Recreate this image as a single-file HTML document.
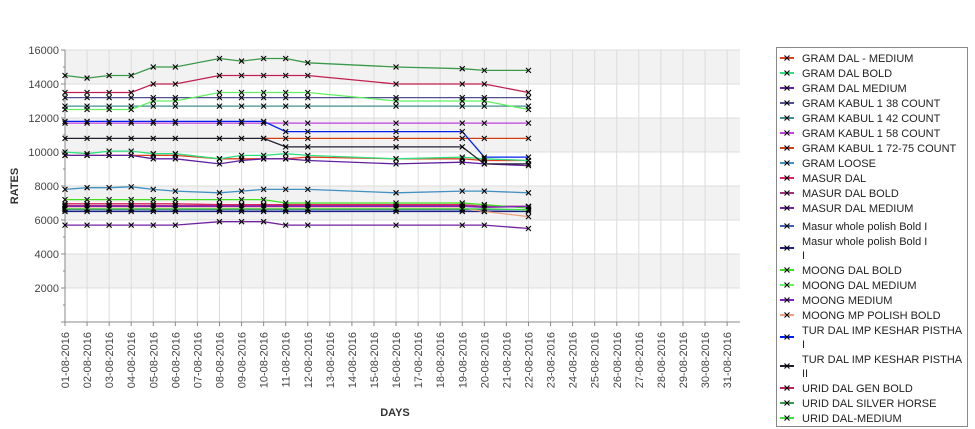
<!DOCTYPE html>
<html><head><meta charset="utf-8"><style>
body{margin:0;background:#fff;font-family:"Liberation Sans","DejaVu Sans",sans-serif}
svg{display:block}
</style></head><body>
<svg id="chart" width="975" height="429" xmlns="http://www.w3.org/2000/svg"></svg>
<script>
const categories=["01-08-2016","02-08-2016","03-08-2016","04-08-2016","05-08-2016","06-08-2016","07-08-2016","08-08-2016","09-08-2016","10-08-2016","11-08-2016","12-08-2016","13-08-2016","14-08-2016","15-08-2016","16-08-2016","17-08-2016","18-08-2016","19-08-2016","20-08-2016","21-08-2016","22-08-2016","23-08-2016","24-08-2016","25-08-2016","26-08-2016","27-08-2016","28-08-2016","29-08-2016","30-08-2016","31-08-2016"];
const yTicks=[2000,4000,6000,8000,10000,12000,14000,16000];
const days=[1,2,3,4,5,6,8,9,10,11,12,16,19,20,22];
const seriesNames=["GRAM DAL - MEDIUM","GRAM DAL BOLD","GRAM DAL MEDIUM","GRAM KABUL 1 38 COUNT","GRAM KABUL 1 42 COUNT","GRAM KABUL 1 58 COUNT","GRAM KABUL 1 72-75 COUNT","GRAM LOOSE","MASUR DAL","MASUR DAL BOLD","MASUR DAL MEDIUM","Masur whole polish Bold I","Masur whole polish Bold I|I","MOONG DAL BOLD","MOONG DAL MEDIUM","MOONG MEDIUM","MOONG MP POLISH BOLD","TUR DAL IMP KESHAR PISTHA| I","TUR DAL IMP KESHAR PISTHA| II","URID DAL GEN BOLD","URID DAL SILVER HORSE","URID DAL-MEDIUM"];
const seriesColors=["#e04020","#30e080","#6020a0","#505090","#409090","#c040e0","#d04010","#4090c0","#e02060","#a03080","#7020a0","#4060b0","#202080","#40e020","#60f060","#8020c0","#f0a080","#0020f0","#202030","#c02050","#3a9a4a","#40e040"];
const v0=[9800,9800,9800,9800,9800,9800,9600,9600,9600,9600,9700,9600,9600,9500,9500];
const v1=[10000,9900,10050,10050,9900,9900,9600,9800,9800,9900,9800,9600,9700,9600,9500];
const v2=[9800,9800,9800,9800,9600,9600,9300,9500,9600,9600,9500,9300,9400,9300,9200];
const v3=[13200,13200,13200,13200,13200,13200,13200,13200,13200,13200,13200,13200,13200,13200,13200];
const v4=[12700,12700,12700,12700,12700,12700,12700,12700,12700,12700,12700,12700,12700,12700,12700];
const v5=[11700,11700,11700,11700,11700,11700,11700,11700,11700,11700,11700,11700,11700,11700,11700];
const v6=[null,null,null,null,null,null,null,null,10800,10800,10800,10800,10800,10800,10800];
const v7=[7800,7900,7900,7950,7800,7700,7600,7700,7800,7800,7800,7600,7700,7700,7600];
const v8=[6950,6950,6950,6950,6950,6950,6900,6900,6900,6900,6900,6900,6900,6800,6800];
const v9=[6850,6850,6850,6850,6850,6850,6850,6850,6850,6850,6850,6850,6850,6800,6800];
const v10=[5700,5700,5700,5700,5700,5700,5900,5900,5900,5700,5700,5700,5700,5700,5500];
const v11=[6600,6600,6600,6600,6600,6600,6600,6600,6600,6600,6600,6600,6600,6600,6600];
const v12=[6500,6500,6500,6500,6500,6500,6500,6500,6500,6500,6500,6500,6500,6500,6500];
const v13=[7200,7200,7200,7200,7200,7200,7200,7200,7200,7000,7000,7000,7000,6900,6700];
const v14=[12500,12500,12500,12500,13000,13000,13500,13500,13500,13500,13500,13000,13000,13000,12500];
const v15=[6800,6800,6800,6800,6800,6800,6800,6800,6800,6800,6800,6800,6800,6750,6800];
const v16=[6700,6700,6700,6700,6700,6700,6700,6700,6700,6700,6700,6700,6700,6500,6200];
const v17=[11800,11800,11800,11800,11800,11800,11800,11800,11800,11200,11200,11200,11200,9700,9700];
const v18=[10800,10800,10800,10800,10800,10800,10800,10800,10800,10300,10300,10300,10300,9300,9300];
const v19=[13500,13500,13500,13500,14000,14000,14500,14500,14500,14500,14500,14000,14000,14000,13500];
const v20=[14500,14350,14500,14500,15000,15000,15500,15350,15500,15500,15250,15000,14900,14800,14800];
const v21=[6650,6650,6650,6650,6650,6650,6650,6650,6650,6650,6650,6650,6650,6650,6600];
const seriesValues=[v0,v1,v2,v3,v4,v5,v6,v7,v8,v9,v10,v11,v12,v13,v14,v15,v16,v17,v18,v19,v20,v21];

const NS="http://www.w3.org/2000/svg";
const svg=document.getElementById('chart');
const L=65,R=740,T=50,B=322,YMAX=16000;
const xs=d=>L+(d-1)*22.07;
const ys=v=>B-(v/YMAX)*(B-T);
function mk(tag,attrs,parent){const e=document.createElementNS(NS,tag);for(const k in attrs)e.setAttribute(k,attrs[k]);(parent||svg).appendChild(e);return e;}

// bands
for(let i=0;i<8;i++){
  const v1b=i*2000,v2b=v1b+2000;
  const band=mk('rect',{x:L,y:ys(v2b),width:R-L,height:ys(v1b)-ys(v2b),fill:(i%2==1)?'#f2f2f2':'#ffffff'});
  
  
}
categories.forEach((c,i)=>{
  const g=mk('line',{x1:xs(i+1),x2:xs(i+1),y1:T,y2:B,stroke:'#dcdcdc','stroke-width':1});
  
  
});
yTicks.forEach(v=>{
  const g=mk('line',{x1:L,x2:R,y1:ys(v),y2:ys(v),stroke:'#dcdcdc','stroke-width':1});
  
  
});
// axes
const ya=mk('line',{x1:L,x2:L,y1:T,y2:B,stroke:'#888'});


const xa=mk('line',{x1:L-4,x2:R,y1:B,y2:B,stroke:'#888'});


for(let v=1000;v<=16000;v+=1000){
  const t=mk('line',{x1:L-(v%2000?2:4),x2:L,y1:ys(v),y2:ys(v),stroke:'#888'});
  
  
}
yTicks.forEach(v=>{
  const t=mk('text',{x:L-6,y:ys(v)+4,'text-anchor':'end','font-size':11,fill:'#444'});
  t.textContent=v;
  
  
});
categories.forEach((c,i)=>{
  const x=xs(i+1);
  const t=mk('line',{x1:x,x2:x,y1:B,y2:B+4,stroke:'#888'});
  
  
  const tx=mk('text',{x:0,y:0,'text-anchor':'end','font-size':11,fill:'#444',transform:`translate(${x+4},${B+10}) rotate(-90)`});
  tx.textContent=c;
  
  
});
const yt=mk('text',{x:0,y:0,'text-anchor':'middle','font-size':11,'font-weight':'bold',fill:'#333',transform:'translate(18,186) rotate(-90)'});
yt.textContent='RATES';


const xt=mk('text',{x:395,y:416,'text-anchor':'middle','font-size':11,'font-weight':'bold',fill:'#333'});
xt.textContent='DAYS';



function cross(x,y,parent){
  const p=mk('path',{d:`M${x-2.5} ${y-2.5}L${x+2.5} ${y+2.5}M${x+2.5} ${y-2.5}L${x-2.5} ${y+2.5}`,stroke:'#000','stroke-width':1.1},parent);
  
  
}
seriesValues.forEach((vals,si)=>{
  const g=mk('g',{});
  
  
  let d='',pen=false;
  vals.forEach((v,i)=>{
    if(v==null){pen=false;return;}
    d+=(pen?'L':'M')+xs(days[i]).toFixed(1)+' '+ys(v).toFixed(1)+' ';pen=true;
  });
  const p=mk('path',{d:d,fill:'none',stroke:seriesColors[si],'stroke-width':1.3},g);
  
  
  vals.forEach((v,i)=>{if(v!=null)cross(xs(days[i]),ys(v),g);});
});

// legend
const lg=mk('g',{});


const lr=mk('rect',{x:776.5,y:47.5,width:191,height:379,fill:'#fff',stroke:'#888'},lg);


let ly=58;
seriesNames.forEach((n,i)=>{
  const parts=n.split('|');
  const e=mk('g',{},lg);
  
  
  const cy=parts.length>1?ly+7:ly;
  mk('line',{x1:780,x2:794,y1:cy,y2:cy,stroke:seriesColors[i],'stroke-width':2},e);
  cross(787,cy,e);
  parts.forEach((p,k)=>{
    const t=mk('text',{x:802,y:ly+4+k*14,'font-size':11,fill:'#222'},e);
    t.textContent=p;
  });
  ly+=parts.length>1?29:15;
  if(i==10)ly+=3;
});
</script>
</body></html>
